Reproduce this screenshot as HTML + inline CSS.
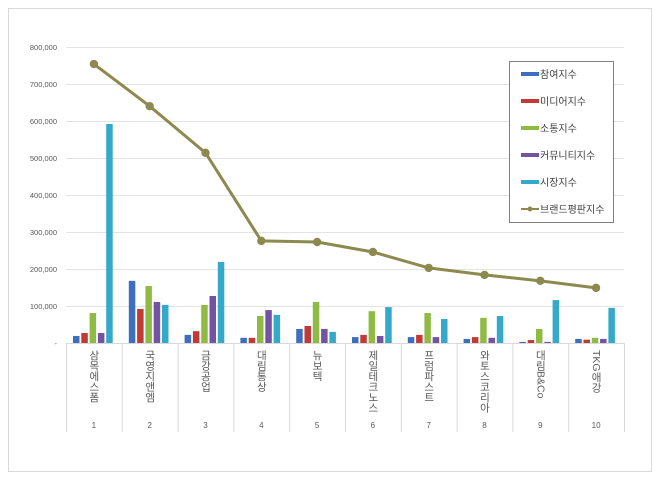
<!DOCTYPE html>
<html><head><meta charset="utf-8">
<style>
html,body{margin:0;padding:0;background:#fff;}
svg{display:block;font-family:"Liberation Sans","Noto Sans CJK KR",sans-serif;}
</style></head>
<body>
<svg id="chart" width="660" height="481" viewBox="0 0 660 481" xmlns="http://www.w3.org/2000/svg">
<rect x="8.5" y="8.5" width="643" height="463" fill="#fff" stroke="#d9d9d9"/>
<g id="grid"></g><g id="bars"></g><g id="line"></g><g id="axis"></g><g id="legend"></g>
</svg>
<script>
const categories=["삼목에스폼","국영지앤엠","금강공업","대림통상","뉴보텍","제일테크노스","프럼파스트","와토스코리아","대림B&Co","TKG애강"];
const nums=["1","2","3","4","5","6","7","8","9","10"];
const seriesNames=["참여지수","미디어지수","소통지수","커뮤니티지수","시장지수"];
const participation=[19000,168000,22000,14000,38000,16000,16000,11000,3000,11000];
const media=[27000,92000,32000,14000,46000,22000,22000,16000,8000,9000];
const communication=[81000,154000,103000,73000,111000,86000,81000,68000,38000,14000];
const community=[27000,111000,127000,89000,38000,19000,16000,14000,3000,11000];
const market=[592000,103000,219000,76000,30000,97000,65000,73000,116000,95000];
const brandIndex=[754000,640000,514000,276000,273000,246000,203000,184000,168000,149000];
const yTicks=[0,100000,200000,300000,400000,500000,600000,700000,800000];
const lineName="브랜드평판지수";
const colors=["#3e6fbf","#c23a36","#8fbb45","#7353a2","#35a9c9"];
const lineColor="#8c8a4e";
const NS="http://www.w3.org/2000/svg";
const x0=66,x1=624,y0=343,yTop=47,yMax=800000;
const cw=(x1-x0)/categories.length;
function yS(v){return y0-(v/yMax)*(y0-yTop);}
function xC(i){return x0+cw*i;}
function mk(t,a,p){const e=document.createElementNS(NS,t);for(const k in a)e.setAttribute(k,a[k]);p.appendChild(e);return e;}
const grid=document.getElementById('grid'),axis=document.getElementById('axis');
yTicks.forEach(v=>{
  if(v>0){const l=mk('line',{x1:x0,x2:x1,y1:yS(v)+.5,y2:yS(v)+.5,stroke:'#e3e3e3'},grid);
  
  }
  const t=mk('text',{x:57,y:yS(v)+3,'text-anchor':'end','font-size':'7.5',fill:'#595959'},axis);
  t.textContent=v===0?'-':v.toLocaleString('en-US');
  
  
});
const base=mk('line',{x1:x0,x2:x1,y1:y0+.5,y2:y0+.5,stroke:'#d9d9d9'},axis);


for(let i=0;i<=categories.length;i++){
  const l=mk('line',{x1:xC(i)+.5,x2:xC(i)+.5,y1:y0,y2:432,stroke:'#d9d9d9'},axis);
  
  
}
categories.forEach((c,i)=>{
  const cx=xC(i)+cw/2;
  const t=mk('text',{x:cx,y:350,'font-size':'10.5',fill:'#595959',style:'writing-mode:vertical-rl;text-orientation:mixed'},axis);
  t.textContent=c;
  
  
  const n=mk('text',{x:cx,y:428,'text-anchor':'middle','font-size':'8',fill:'#595959'},axis);
  n.textContent=nums[i];
  
  
});
const bars=document.getElementById('bars');
const all=[participation,media,communication,community,market];
all.forEach((s,k)=>{
  s.forEach((v,i)=>{
    const x=xC(i)+7+k*8.3;
    const r=mk('rect',{x:x,y:yS(v),width:6.5,height:y0-yS(v),fill:colors[k]},bars);
    
    
  });
});
const lg=document.getElementById('line');
const pts=brandIndex.map((v,i)=>(xC(i)+cw/2)+','+yS(v)).join(' ');
const pl=mk('polyline',{points:pts,fill:'none',stroke:lineColor,'stroke-width':3},lg);


brandIndex.forEach((v,i)=>{
  const c=mk('circle',{cx:xC(i)+cw/2,cy:yS(v),r:4.2,fill:lineColor},lg);
  
  
});
const leg=document.getElementById('legend');
const lb=mk('rect',{x:509.5,y:61.5,width:104,height:161,fill:'#fff',stroke:'#7f7f7f'},leg);


const ly=[74,101,128,155,182,209];
seriesNames.concat([lineName]).forEach((n,k)=>{
  const y=ly[k];
  if(k<5){const m=mk('rect',{x:521,y:y-2,width:18,height:4,fill:colors[k]},leg);
    
    }
  else{mk('line',{x1:521,x2:539,y1:y,y2:y,stroke:lineColor,'stroke-width':2},leg);
    const m=mk('circle',{cx:530,cy:y,r:2.5,fill:lineColor},leg);
    
    }
  const t=mk('text',{x:540,y:y+4,'font-size':'10',fill:'#404040'},leg);
  t.textContent=n;
  
  
});
</script>
</body></html>
